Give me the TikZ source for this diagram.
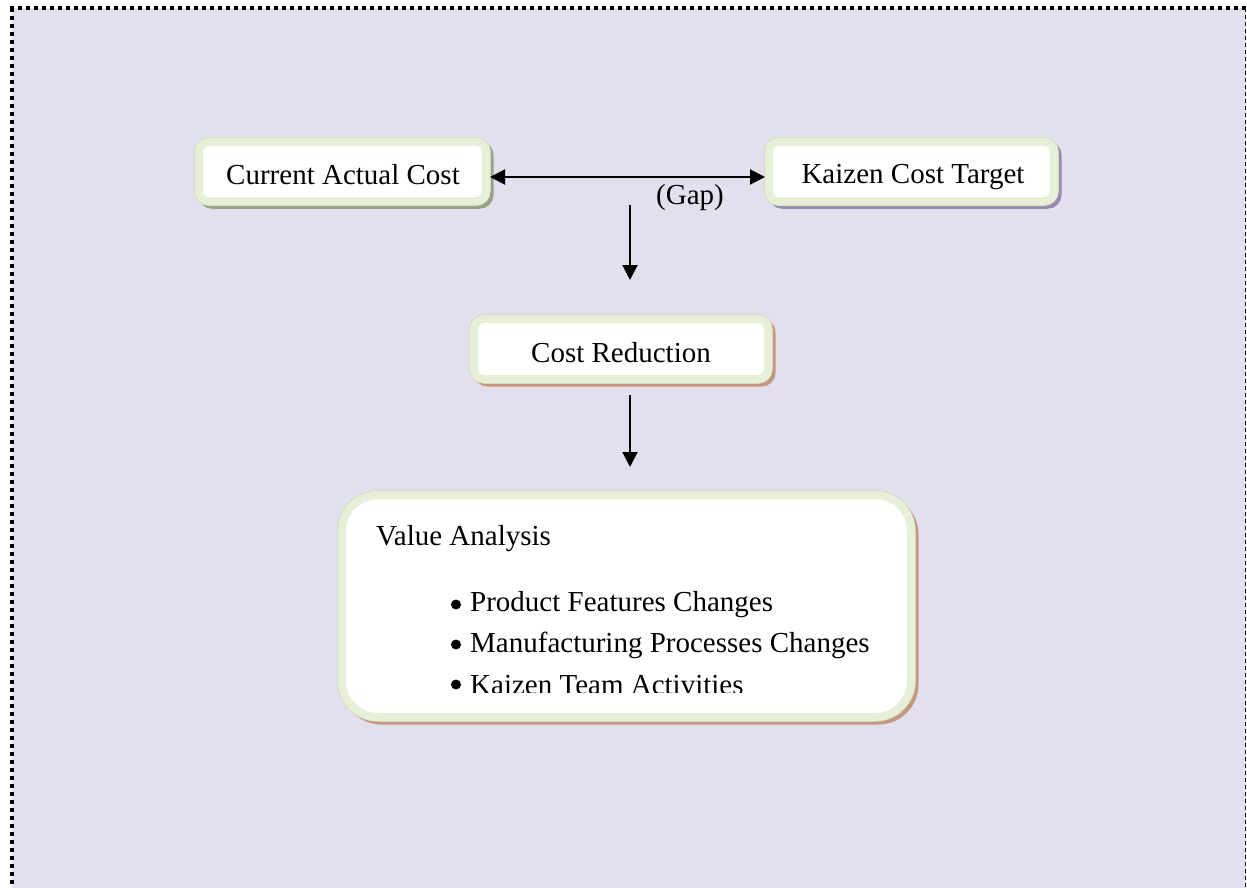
\documentclass[tikz,border=0pt]{standalone}
\usepackage{fontspec}
\setmainfont{Liberation Serif}
\usetikzlibrary{arrows.meta,calc}
\definecolor{pagebg}{HTML}{E4DFEC}
\definecolor{framefill}{HTML}{E8EFD9}
\definecolor{frameedge}{HTML}{CFDAB6}
\definecolor{shadeolive}{HTML}{98A286}
\definecolor{shadeviolet}{HTML}{958CB0}
\definecolor{shadebrown}{HTML}{C49880}
\tikzset{
  x=1pt, y=-1pt,
  costbox/.style={
    draw=framefill, line width=8pt, fill=white, rounded corners=10pt,
    inner sep=0pt, font=\fontsize{29}{34}\selectfont,
    preaction={draw=#1, fill=#1, line width=8pt,
      transform canvas={xshift=3.5pt, yshift=-3.5pt}},
    preaction={draw=frameedge, line width=9.5pt}
  },
  label/.style={inner sep=0pt, font=\fontsize{29}{34}\selectfont},
  flow/.style={line width=2pt, -{Triangle[length=15pt,width=15pt]}},
  flowboth/.style={line width=2pt, {Triangle[length=15pt,width=15pt]}-{Triangle[length=15pt,width=15pt]}},
  dot/.style={circle, fill=black, inner sep=0pt, minimum size=10pt}
}
\begin{document}
\begin{tikzpicture}
  \useasboundingbox (0,0) rectangle (1247,888);
  % page background and frame
  \fill[pagebg] (12,8) rectangle (1246,888);
  \draw[line width=4pt, dash pattern=on 4pt off 4pt] (10,8) -- (1247,8);
  \draw[line width=4pt, dash pattern=on 4pt off 4pt] (12,8) -- (12,888);
  \draw[line width=1.5pt, dash pattern=on 4pt off 3pt] (1245.5,8) -- (1245.5,888);

  % boxes
  \node[costbox=shadeolive, minimum width=287pt, minimum height=59.5pt]
    (cac) at (342.5,171.5) {};
  \node[costbox=shadeviolet, minimum width=285pt, minimum height=59.5pt]
    (kct) at (911.5,171.5) {};
  \node[costbox=shadebrown, minimum width=294pt, minimum height=60pt]
    (cr) at (621,349) {};
  \node[costbox=shadebrown, rounded corners=36pt, minimum width=569pt, minimum height=222pt]
    (va) at (626.5,606) {};

  % box texts
  \node[label] (cactext) at (343,175) {Current Actual Cost};
  \begin{scope}
    \clip (773,146) rectangle (1051,191);
    \node[label] (kcttext) at (913,177) {Kaizen Cost Target};
  \end{scope}
  \node[label] (crtext) at (621,353) {Cost Reduction};
  \begin{scope}
    \clip (346,499) rectangle (907,692);
    \node[label, anchor=west] (vatitle) at (376,539) {Value Analysis};
    \node[dot] (b1) at (456,604.5) {};
    \node[dot] (b2) at (456,644.5) {};
    \node[dot] (b3) at (456,684.5) {};
    \node[label, anchor=west] (i1) at (470,605) {Product Features Changes};
    \node[label, anchor=west] (i2) at (470,645) {Manufacturing Processes Changes};
    \node[label, anchor=west] (i3) at (470,685) {Kaizen Team Activities};
  \end{scope}

  % connectors
  \coordinate (gapy) at (0,177);
  \draw[flowboth] (cac.east |- gapy) -- (kct.west |- gapy);
  \node[label] (gap) at (690,198) {(Gap)};
  \coordinate (d1s) at (630,205);
  \coordinate (d1e) at (630,280);
  \coordinate (d2s) at (630,395);
  \coordinate (d2e) at (630,467);
  \draw[flow] (d1s) -- (d1e);
  \draw[flow] (d2s) -- (d2e);
\end{tikzpicture}
\end{document}
